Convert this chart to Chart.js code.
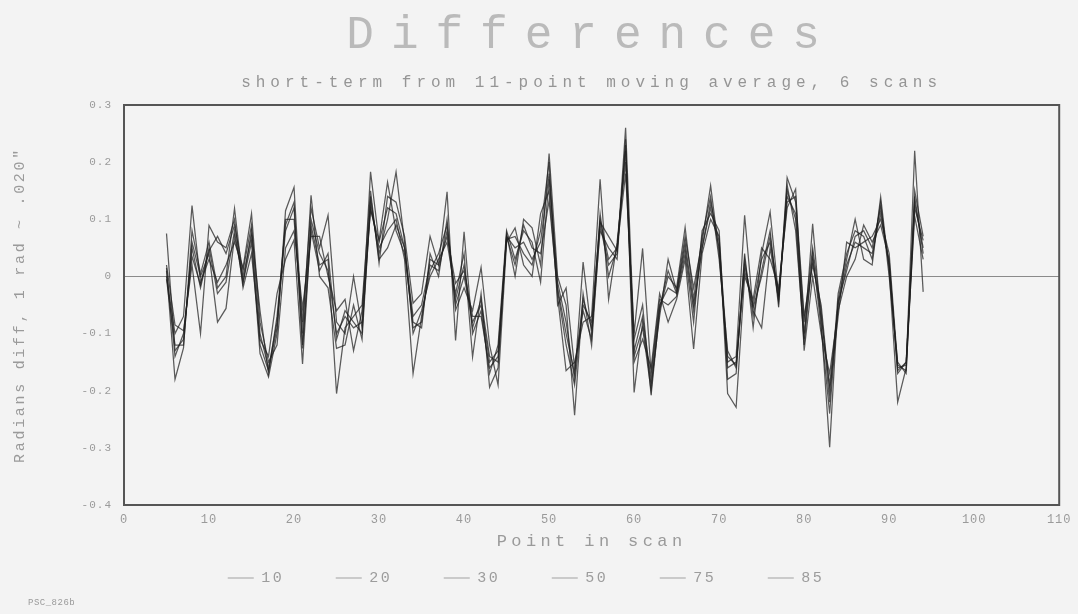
<!DOCTYPE html>
<html>
<head>
<meta charset="utf-8">
<script src="https://cdn.jsdelivr.net/npm/chart.js@4/dist/chart.umd.min.js"></script>
<style>
html, body { margin: 0; padding: 0; background: #f3f3f3; }
#wrap { position: relative; width: 1078px; height: 614px; }
#note { position: absolute; left: 28px; top: 598px; font: 9px 'Liberation Mono', 'DejaVu Sans Mono', monospace; color: #9a9a9a; letter-spacing: 0.5px; }
</style>
</head>
<body>
<div id="wrap">
<canvas id="c" width="1078" height="614"></canvas>
<div id="note">PSC_826b</div>
</div>
<script>
// ---- text ----
const titleText = 'Differences';
const subtitleText = 'short-term from 11-point moving average, 6 scans';
const xTitle = 'Point in scan';
const yTitle = 'Radians diff, 1 rad ~ .020"';

// ---- categories: point index in scan ----
const points = [
  5, 6, 7, 8, 9, 10, 11, 12, 13, 14,
  15, 16, 17, 18, 19, 20, 21, 22, 23, 24,
  25, 26, 27, 28, 29, 30, 31, 32, 33, 34,
  35, 36, 37, 38, 39, 40, 41, 42, 43, 44,
  45, 46, 47, 48, 49, 50, 51, 52, 53, 54,
  55, 56, 57, 58, 59, 60, 61, 62, 63, 64,
  65, 66, 67, 68, 69, 70, 71, 72, 73, 74,
  75, 76, 77, 78, 79, 80, 81, 82, 83, 84,
  85, 86, 87, 88, 89, 90, 91, 92, 93, 94
];

// ---- series labels ----
const seriesLabels = ['10', '20', '30', '50', '75', '85'];

// ---- series values (points 5..94) ----
const s10 = [
  0.075, -0.13, -0.11, 0.05, -0.02, 0.045, 0.07, 0.04, 0.09, 0.01,
  0.09, -0.1, -0.16, -0.08, 0.08, 0.12, -0.12, 0.1, 0.04, 0.01,
  -0.1, -0.07, -0.09, -0.08, 0.183, 0.06, 0.12, 0.11, 0.05, -0.07,
  -0.05, 0.02, 0.01, 0.08, -0.05, 0, -0.08, -0.05, -0.15, -0.13,
  0.07, 0.05, 0.06, 0.03, 0.06, 0.18, -0.02, -0.1, -0.17, -0.04,
  -0.09, 0.1, 0.03, 0.05, 0.22, -0.13, -0.07, -0.18, -0.05, -0.02,
  -0.03, 0.05, -0.06, 0.05, 0.12, 0.05, -0.16, -0.15, 0.02, -0.05,
  0.03, 0.06, -0.03, 0.14, 0.11, -0.1, 0.03, -0.07, -0.19, -0.05,
  0.02, 0.06, 0.05, 0.04, 0.11, 0.02, -0.16, -0.155, 0.13, 0.05
];
const s20 = [
  0.01, -0.18, -0.125, 0.08, 0.005, 0.06, -0.02, 0, 0.119, -0.01,
  0.06, -0.135, -0.176, -0.1, 0.115, 0.156, -0.1, 0.142, 0, -0.02,
  -0.126, -0.12, -0.05, -0.11, 0.13, 0.04, 0.1, 0.183, 0.06, -0.1,
  -0.06, 0, 0.03, 0.06, -0.03, 0.04, -0.141, -0.03, -0.194, -0.16,
  0.075, 0, 0.1, 0.085, 0.02, 0.215, 0, -0.05, -0.243, -0.03,
  -0.121, 0.09, 0.02, 0.04, 0.26, -0.11, -0.05, -0.208, -0.06, 0,
  -0.02, 0.086, -0.04, 0.07, 0.14, 0.03, -0.13, -0.16, 0.03, -0.07,
  0.01, 0.08, -0.054, 0.173, 0.13, -0.08, 0.05, -0.06, -0.22, -0.03,
  0.04, 0.08, 0.07, 0.03, 0.13, 0, -0.15, -0.17, 0.15, 0.07
];
const s30 = [
  0, -0.1, -0.07, 0.124, -0.01, 0.03, -0.01, 0.02, 0.06, 0.015,
  0.11, -0.08, -0.15, -0.12, 0.05, 0.08, -0.056, 0.07, 0.07, 0,
  -0.06, -0.04, -0.13, -0.06, 0.116, 0.063, 0.165, 0.08, 0.04, -0.08,
  -0.09, 0.04, 0, 0.1, -0.059, -0.02, -0.06, 0.016, -0.12, -0.19,
  0.06, 0.085, 0.02, 0, 0.11, 0.15, -0.035, -0.165, -0.15, -0.08,
  -0.07, 0.17, -0.04, 0.06, 0.2, -0.15, -0.11, -0.16, -0.03, -0.08,
  -0.04, 0.03, -0.127, 0.04, 0.1, 0.07, -0.205, -0.229, 0, -0.04,
  0.05, 0.03, -0.02, 0.12, 0.153, -0.13, 0, -0.1, -0.17, -0.06,
  0, 0.03, 0.09, 0.06, 0.09, 0.03, -0.17, -0.15, 0.105, 0.03
];
const s50 = [
  0.02, -0.085, -0.095, 0.02, -0.1, 0.089, 0.06, 0.05, 0.1, -0.02,
  0.04, -0.11, -0.14, -0.03, 0.03, 0.064, -0.153, 0.09, 0.02, 0.03,
  -0.205, -0.09, -0.07, -0.05, 0.15, 0.023, 0.14, 0.13, 0.07, -0.047,
  -0.03, 0.07, 0.02, 0.148, -0.112, 0.078, -0.1, -0.06, -0.17, -0.12,
  0.08, 0.03, 0.08, 0.06, -0.01, 0.17, -0.01, -0.08, -0.18, 0.025,
  -0.1, 0.08, 0.05, 0.03, 0.24, -0.203, -0.08, -0.19, -0.07, 0.03,
  -0.025, 0.07, -0.02, 0.06, 0.159, 0.04, -0.15, -0.14, 0.107, -0.06,
  -0.09, 0.05, -0.04, 0.16, 0.08, -0.11, 0.092, -0.08, -0.299, -0.04,
  0.03, 0.1, 0.03, 0.02, 0.139, 0.01, -0.22, -0.16, 0.22, -0.027
];
const s75 = [
  -0.005, -0.12, -0.12, 0.06, 0, 0.04, -0.08, -0.056, 0.07, 0,
  0.07, -0.12, -0.165, -0.09, 0.1, 0.1, -0.08, 0.12, 0.05, 0.107,
  -0.08, -0.1, 0, -0.09, 0.12, 0.05, 0.08, 0.1, 0.03, -0.17,
  -0.07, 0.01, 0.04, 0.09, -0.04, 0.02, -0.09, -0.04, -0.14, -0.15,
  0.065, 0.07, 0.04, 0.02, 0.08, 0.2, -0.05, -0.02, -0.16, -0.06,
  -0.11, 0.11, 0, 0.05, 0.18, -0.1, 0.049, -0.17, -0.04, -0.05,
  -0.035, 0.04, -0.08, 0.08, 0.11, 0.08, -0.18, -0.17, 0.04, -0.09,
  0.04, 0.113, -0.035, 0.13, 0.14, -0.07, 0.02, -0.05, -0.2, -0.07,
  0.06, 0.05, 0.06, 0.07, 0.1, 0.04, -0.155, -0.165, 0.12, 0.063
];
const s85 = [
  0.015, -0.14, -0.1, 0.035, -0.015, 0.05, -0.03, -0.01, 0.08, -0.013,
  0.08, -0.06, -0.17, -0.07, 0.09, 0.13, -0.126, 0.08, 0.01, 0.04,
  -0.11, -0.06, -0.08, -0.1, 0.14, 0.03, 0.05, 0.09, 0.05, -0.09,
  -0.08, 0.03, 0.02, 0.07, -0.012, 0.01, -0.07, -0.07, -0.16, -0.14,
  0.07, 0.02, 0.09, 0.05, 0.04, 0.133, -0.025, -0.12, -0.19, -0.05,
  -0.08, 0.095, 0.07, 0.045, 0.23, -0.14, -0.09, -0.2, -0.055, 0.01,
  -0.03, 0.06, -0.05, 0.05, 0.13, 0.06, -0.14, -0.155, 0.01, -0.055,
  0, 0.07, -0.045, 0.15, 0.1, -0.12, 0.04, -0.09, -0.24, -0.045,
  0.01, 0.07, 0.08, 0.05, 0.12, 0.02, -0.165, -0.15, 0.14, 0.04
];

// ---- tick labels ----
const yTickValues = [0.3, 0.2, 0.1, 0, -0.1, -0.2, -0.3, -0.4];
const yTickLabels = ['0.3', '0.2', '0.1', '0', '-0.1', '-0.2', '-0.3', '-0.4'];
const xTickValues = [0, 10, 20, 30, 40, 50, 60, 70, 80, 90, 100, 110];
const xTickLabels = ['0', '10', '20', '30', '40', '50', '60', '70', '80', '90', '100', '110'];

const FONT = "'Liberation Mono', 'DejaVu Sans Mono', monospace";
const seriesValues = [s10, s20, s30, s50, s75, s85];
const LINE = 'rgba(30,30,30,0.72)';

const datasets = seriesLabels.map((lab, k) => ({
  label: lab,
  data: points.map((p, i) => ({ x: p, y: seriesValues[k][i] })),
  borderColor: LINE,
  backgroundColor: LINE,
  borderWidth: 1.25,
  pointRadius: 0,
  tension: 0,
  fill: false
}));

const framePlugin = {
  id: 'frame',
  afterDraw(chart) {
    const { ctx, chartArea: a } = chart;
    ctx.save();
    ctx.strokeStyle = '#555';
    ctx.lineWidth = 2;
    ctx.strokeRect(a.left, a.top, a.right - a.left, a.bottom - a.top);
    ctx.restore();
  }
};

function findLabel(vals, labs, v) {
  const i = vals.findIndex(t => Math.abs(t - v) < 1e-6);
  return i >= 0 ? labs[i] : '';
}

const chart = new Chart(document.getElementById('c'), {
  type: 'line',
  data: { datasets },
  plugins: [framePlugin],
  options: {
    responsive: false,
    animation: false,
    layout: { padding: { left: 10, right: 16, top: 0, bottom: 0 } },
    plugins: {
      title: {
        display: true, text: titleText, fullSize: false, color: '#bababa',
        font: { family: FONT, size: 46, weight: 'normal' },
        padding: { top: 8, bottom: 0 }
      },
      subtitle: {
        display: true, text: subtitleText, fullSize: false, color: '#959595',
        font: { family: FONT, size: 16, weight: 'normal' },
        padding: { top: 10, bottom: 12.6 }
      },
      legend: {
        position: 'bottom', maxHeight: 59,
        labels: {
          boxWidth: 26, boxHeight: 1, padding: 51.5, color: '#9c9c9c',
          font: { family: FONT, size: 15 },
          generateLabels: (c) => Chart.defaults.plugins.legend.labels.generateLabels(c).map(l => Object.assign(l, { fillStyle: '#a0a0a0', strokeStyle: '#a0a0a0', lineWidth: 0 }))
        }
      },
      tooltip: { enabled: false }
    },
    scales: {
      x: {
        type: 'linear', min: 0, max: 110,
        ticks: { stepSize: 10, color: '#9a9a9a', font: { family: FONT, size: 12 }, padding: 8, maxRotation: 0,
          callback: (v) => findLabel(xTickValues, xTickLabels, v) },
        grid: { display: false, drawTicks: false },
        border: { display: true, color: '#555', width: 2 },
        title: { display: true, text: xTitle, color: '#9a9a9a', font: { family: FONT, size: 17 }, padding: { top: 0, bottom: 3 } },
        afterFit: (s) => { s.height = 50; }
      },
      y: {
        type: 'linear', min: -0.4, max: 0.3,
        ticks: { stepSize: 0.1, color: '#9a9a9a', font: { family: FONT, size: 11 }, padding: 12,
          callback: (v) => findLabel(yTickValues, yTickLabels, v) },
        grid: { drawTicks: false, lineWidth: 1, color: (c) => (c.tick && Math.abs(c.tick.value) < 1e-9) ? '#8a8a8a' : 'rgba(0,0,0,0)' },
        border: { display: true, color: '#555', width: 2 },
        title: { display: true, text: yTitle, color: '#9a9a9a', font: { family: FONT, size: 15 }, padding: { top: 1, bottom: 0 } },
        afterFit: (s) => { s.width = 114; }
      }
    }
  }
});

// letter spacing to imitate the plotter font
const cx = chart.ctx;
function spaced(obj, name, ls) {
  const orig = obj[name];
  obj[name] = function (...a) {
    const prev = cx.letterSpacing;
    cx.letterSpacing = ls;
    try { return orig.apply(this, a); } finally { cx.letterSpacing = prev; }
  };
}
chart.boxes.forEach(b => {
  if (b.options && b.options.text === titleText) spaced(b, 'draw', '17px');
  else if (b.options && b.options.text === subtitleText) spaced(b, 'draw', '5px');
});
spaced(chart.scales.x, 'drawLabels', '1px');
spaced(chart.scales.x, 'drawTitle', '4.4px');
spaced(chart.scales.y, 'drawLabels', '1px');
spaced(chart.scales.y, 'drawTitle', '2.7px');
if (chart.legend) {
  const lg = chart.legend;
  const lgDraw = lg.draw;
  lg.draw = function (...a) {
    const t = this.top, l = this.left, r = this.right;
    const pad = this.options.labels.padding;
    this.top = 578 - pad - 7.5;
    this.left = l - 25; this.right = r - 25;
    const prev = cx.letterSpacing;
    cx.letterSpacing = '2.5px';
    try { return lgDraw.apply(this, a); } finally { this.top = t; this.left = l; this.right = r; cx.letterSpacing = prev; }
  };
}
chart.draw();
</script>
</body>
</html>
